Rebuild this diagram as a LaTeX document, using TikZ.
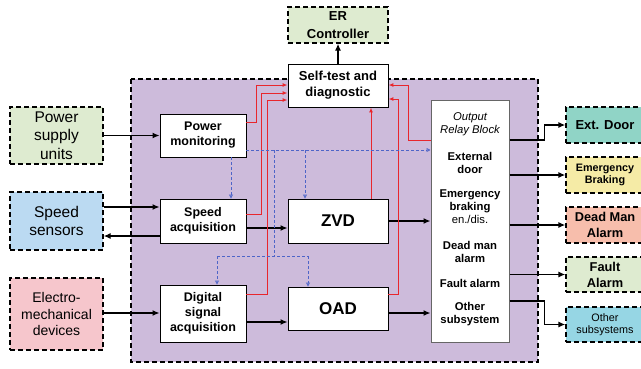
\documentclass[tikz,border=0pt]{standalone}
\usepackage{fontspec}
\setmainfont{Liberation Sans}
\usepackage{tikz}
\usetikzlibrary{arrows.meta}

\definecolor{bgpurple}{RGB}{205,187,219}
\definecolor{lgreen}{RGB}{222,235,208}
\definecolor{lblue}{RGB}{187,218,242}
\definecolor{lpink}{RGB}{246,198,204}
\definecolor{lteal}{RGB}{144,212,198}
\definecolor{lyellow}{RGB}{245,235,166}
\definecolor{lsalmon}{RGB}{247,190,172}
\definecolor{lcyan}{RGB}{150,214,228}
\definecolor{diagred}{RGB}{232,38,45}
\definecolor{ctrlblue}{RGB}{78,100,200}

\begin{document}
\begin{tikzpicture}[x=1pt,y=-1pt]
	\tikzstyle{ext}=[rectangle,draw,dashed,dash pattern=on 5pt off 3pt,line width=1.3pt,inner sep=0pt,align=center]
	\tikzstyle{blk}=[rectangle,draw,fill=white,line width=0.9pt,inner sep=0pt,align=center,font=\fontsize{12.5}{15}\selectfont\bfseries]
	\tikzstyle{big}=[font=\fontsize{15.5}{18.5}\selectfont]
	\tikzstyle{rtxt}=[align=center,inner sep=0pt,font=\fontsize{11.3}{13}\selectfont\bfseries]
	\tikzstyle{sig}=[line width=1.3pt,-{Latex[length=7pt,width=6pt]}]
	\tikzstyle{diag}=[line width=1pt,diagred,-{Latex[length=5pt,width=4pt]}]
	\tikzstyle{ctrl}=[line width=0.8pt,ctrlblue,dashed,dash pattern=on 3pt off 2pt,-{Triangle[open,length=4pt,width=4pt]}]
	\tikzstyle{ctrlline}=[line width=0.8pt,ctrlblue,dashed,dash pattern=on 3pt off 2pt]
	\useasboundingbox (0,0) rectangle (641,368);
	% system area
	\draw [ext,fill=bgpurple] (131,79) rectangle (538,362);
	% outside world
	\node (er) at (338,25) [ext,fill=lgreen,minimum width=100pt,minimum height=36pt,font=\fontsize{13}{18}\selectfont\bfseries] {ER\\Controller};
	\node (psu) at (56.5,135.5) [ext,big,fill=lgreen,minimum width=93pt,minimum height=57pt] {Power\\supply\\units};
	\node (speed) at (56.5,221) [ext,big,fill=lblue,minimum width=93pt,minimum height=58pt] {Speed\\sensors};
	\node (electro) at (56.5,314) [ext,fill=lpink,minimum width=93pt,minimum height=72pt,font=\fontsize{14}{16.7}\selectfont] {Electro-\\mechanical\\devices};
	\node (extdoor) at (605,125) [ext,fill=lteal,minimum width=78pt,minimum height=36pt,font=\fontsize{13}{16}\selectfont\bfseries] {Ext. Door};
	\node (embrake) at (605,175) [ext,fill=lyellow,minimum width=78pt,minimum height=36pt,font=\fontsize{10.8}{12.5}\selectfont\bfseries] {Emergency\\Braking};
	\node (deadman) at (605,225) [ext,fill=lsalmon,minimum width=78pt,minimum height=36pt,font=\fontsize{12.8}{16}\selectfont\bfseries] {Dead Man\\Alarm};
	\node (fault) at (605,274.5) [ext,fill=lgreen,minimum width=78pt,minimum height=35pt,font=\fontsize{12.8}{16}\selectfont\bfseries] {Fault\\Alarm};
	\node (other) at (605,324.5) [ext,fill=lcyan,minimum width=78pt,minimum height=35pt,font=\fontsize{10.8}{12.5}\selectfont] {Other\\subsystems};
	% processing blocks
	\node (selftest) at (338,85.5) [blk,minimum width=100pt,minimum height=43pt,font=\fontsize{13}{16}\selectfont\bfseries] {Self-test and\\diagnostic};
	\node (powmon) at (203,135.5) [blk,minimum width=86pt,minimum height=43pt] {Power\\monitoring};
	\node (speedacq) at (203,221) [blk,minimum width=86pt,minimum height=44pt] {Speed\\acquisition};
	\node (digacq) at (203,313.5) [blk,minimum width=86pt,minimum height=57pt] {Digital\\signal\\acquisition};
	\node (zvd) at (338,221) [blk,minimum width=100pt,minimum height=44pt,font=\fontsize{17}{20}\selectfont\bfseries] {ZVD};
	\node (oad) at (338,308.5) [blk,minimum width=100pt,minimum height=43pt,font=\fontsize{17}{20}\selectfont\bfseries] {OAD};
	\node (relay) at (470,221) [rectangle,draw=black!60,fill=white,line width=1pt,minimum width=78pt,minimum height=242pt,inner sep=0pt] {};
	\node (rhead) at (470,124.5) [rtxt,font=\fontsize{11.3}{13}\selectfont\itshape] {Output\\Relay Block};
	\node (rext) at (470,162.5) [rtxt] {External\\door};
	\node (remb) at (470,207) [rtxt] {Emergency\\braking\\{\mdseries en./dis.}};
	\node (rdead) at (470,251.5) [rtxt] {Dead man\\alarm};
	\node (rfault) at (470,283) [rtxt] {Fault alarm};
	\node (rother) at (470,314.5) [rtxt] {Other\\subsystem};
	% signal flow
	\draw [sig] (selftest.north) -- (er.south);
	\draw [sig] (psu.east) -- (powmon.west);
	\draw [sig] (speed.east |- 0,207) -- (speedacq.west |- 0,207);
	\draw [sig] (speedacq.west |- 0,236) -- (speed.east |- 0,236);
	\draw [sig] (electro.east |- 0,313) -- (digacq.west |- 0,313);
	\draw [sig] (speedacq.east |- 0,228) -- (zvd.west |- 0,228);
	\draw [sig] (digacq.east |- 0,322) -- (oad.west |- 0,322);
	\draw [sig] (zvd.east) -- (relay.west |- zvd.east);
	\draw [sig] (oad.east |- 0,313) -- (relay.west |- 0,313);
	\draw [sig] (relay.east |- 0,140) -- ++(35,0) |- (extdoor.west);
	\draw [sig] (relay.east |- embrake.west) -- (embrake.west);
	\draw [sig] (relay.east |- deadman.west) -- (deadman.west);
	\draw [sig] (relay.east |- fault.west) -- (fault.west);
	\draw [sig] (relay.east |- 0,301) -- ++(35,0) |- (other.west);
	% diagnostics
	\draw [diag] (powmon.east |- 0,122) -- ++(10,0) |- (selftest.west |- 0,85);
	\draw [diag] (speedacq.east |- 0,214) -- ++(15,0) |- (selftest.west |- 0,93);
	\draw [diag] (digacq.east |- 0,294) -- ++(21,0) |- (selftest.west |- 0,100);
	\draw [diag] (zvd.north -| 371,0) -- (selftest.south -| 371,0);
	\draw [diag] (oad.east |- 0,294) -- ++(10,0) |- (selftest.east |- 0,99);
	\draw [diag] (relay.west |- 0,140) -- ++(-22,0) |- (selftest.east |- 0,85);
	% power status
	\draw [ctrl] (powmon.east |- 0,150) -- (relay.west |- 0,150);
	\draw [ctrl] (powmon.south -| 231,0) -- (speedacq.north -| 231,0);
	\draw [ctrl] (305,150) -- (zvd.north -| 305,0);
	\draw [ctrlline] (274,150) -- (274,256);
	\draw [ctrlline] (217,256) -- (308,256);
	\draw [ctrl] (217,256) -- (digacq.north -| 217,0);
	\draw [ctrl] (308,256) -- (oad.north -| 308,0);
\end{tikzpicture}
\end{document}
